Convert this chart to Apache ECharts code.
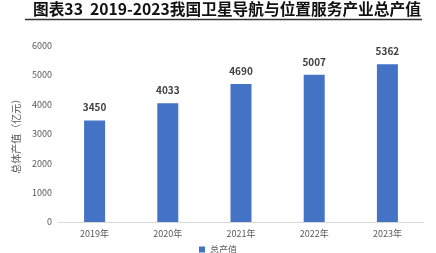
<!DOCTYPE html>
<html><head><meta charset="utf-8">
<script src="https://cdn.jsdelivr.net/npm/echarts@6/dist/echarts.min.js"></script>
<style>html,body{margin:0;padding:0;background:#fff}#c{width:436px;height:253px}</style>
</head><body><div id="c"></div>
<script>
const categories = ['2019年','2020年','2021年','2022年','2023年'];
const values = [3450, 4033, 4690, 5007, 5362];
const seriesName = '总产值';
const titleText = '图表33  2019-2023我国卫星导航与位置服务产业总产值';
const yAxisName = '总体产值（亿元）';

const chart = echarts.init(document.getElementById('c'));
chart.setOption({
  animation: false,
  title: {
    text: titleText, left: 33, top: 1, padding: 0,
    textStyle: {fontFamily: 'Noto Sans CJK SC', fontSize: 15.7, fontWeight: 'bold', color: '#111'}
  },
  graphic: [{type: 'line', shape: {x1: 25, y1: 19.5, x2: 422, y2: 19.5}, style: {stroke: '#333', lineWidth: 1.5}}],
  legend: {
    bottom: -6, left: 'center', itemWidth: 6, itemHeight: 6, icon: 'rect',
    textStyle: {fontSize: 9, color: '#595959', fontFamily: 'Noto Sans CJK SC'}
  },
  grid: {left: 58, right: 12, top: 45.5, bottom: 31},
  xAxis: {
    type: 'category', data: categories,
    axisLine: {lineStyle: {color: '#d9d9d9'}}, axisTick: {show: false},
    axisLabel: {color: '#595959', fontSize: 9, margin: 7, fontFamily: 'Noto Sans CJK SC'}
  },
  yAxis: {
    type: 'value', min: 0, max: 6000, interval: 1000,
    name: yAxisName, nameLocation: 'middle', nameGap: 27, nameRotate: 90,
    nameTextStyle: {color: '#595959', fontSize: 10, fontFamily: 'Noto Sans CJK SC'},
    axisLine: {show: false}, axisTick: {show: false}, splitLine: {show: false},
    axisLabel: {color: '#595959', fontSize: 9, margin: 6, fontFamily: 'Noto Sans CJK SC', formatter: v => String(v)}
  },
  series: [{
    name: seriesName, type: 'bar', data: values, barWidth: 21,
    itemStyle: {color: '#4472c4'},
    label: {show: true, position: 'top', distance: 8, color: '#404040', fontSize: 10, fontWeight: 'bold', fontFamily: 'Noto Sans CJK SC'}
  }]
});
</script></body></html>
